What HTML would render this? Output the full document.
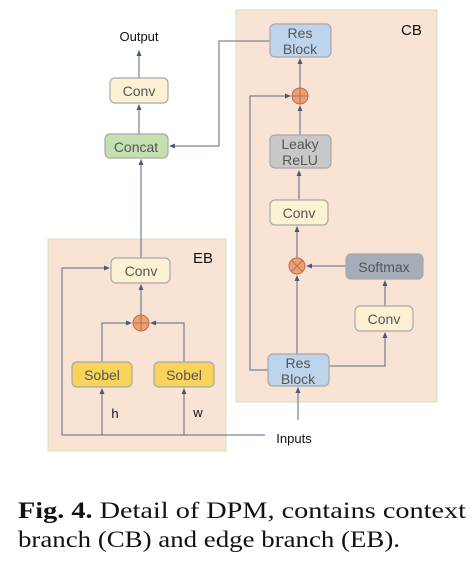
<!DOCTYPE html>
<html><head><meta charset="utf-8"><style>
html,body{margin:0;padding:0;background:#fff;width:475px;height:569px;overflow:hidden}
svg text{font-family:"Liberation Sans",sans-serif}
</style></head><body>
<svg width="475" height="569" viewBox="0 0 475 569" xmlns="http://www.w3.org/2000/svg">
<defs><marker id="a" markerWidth="6" markerHeight="6" refX="5" refY="3" orient="auto" markerUnits="userSpaceOnUse"><path d="M0,0.5 L6,3 L0,5.5 z" fill="#4a5a78"/></marker></defs>
<rect x="236" y="10" width="201" height="392" fill="#f9e3d5" stroke="#cfe3b5" stroke-width="1"/>
<rect x="48" y="239" width="178" height="212" fill="#f9e3d5" stroke="#cfe3b5" stroke-width="1"/>
<text x="401" y="35" font-size="15" fill="#111">CB</text>
<text x="193" y="263" font-size="15" fill="#111">EB</text>
<text x="139" y="41" font-size="13" fill="#111" text-anchor="middle">Output</text>
<text x="294" y="443" font-size="13" fill="#111" text-anchor="middle">Inputs</text>
<text x="115" y="418" font-size="13" fill="#111" text-anchor="middle">h</text>
<text x="198" y="417" font-size="13" fill="#111" text-anchor="middle">w</text>
<g stroke="#5a6a85" stroke-width="1" fill="none">
<path d="M139,78 V51" marker-end="url(#a)"/>
<path d="M139,134 V105" marker-end="url(#a)"/>
<path d="M141,258 V160" marker-end="url(#a)"/>
<path d="M270,41 H219 V146 H170" marker-end="url(#a)"/>
<path d="M300,88 V59" marker-end="url(#a)"/>
<path d="M300,135 V106" marker-end="url(#a)"/>
<path d="M299,200 V171" marker-end="url(#a)"/>
<path d="M297,258 V227" marker-end="url(#a)"/>
<path d="M297,354 V276" marker-end="url(#a)"/>
<path d="M346,266 H307" marker-end="url(#a)"/>
<path d="M385,306 V281" marker-end="url(#a)"/>
<path d="M329,366 H385 V333" marker-end="url(#a)"/>
<path d="M268,370 H250 V96 H290" marker-end="url(#a)"/>
<path d="M298,420 V388" marker-end="url(#a)"/>
<path d="M265,435 H62 V268 H109" marker-end="url(#a)"/>
<path d="M141,315 V285" marker-end="url(#a)"/>
<path d="M102,362 V323 H131" marker-end="url(#a)"/>
<path d="M184,362 V323 H151" marker-end="url(#a)"/>
<path d="M102,435 V389" marker-end="url(#a)"/>
<path d="M184,435 V389" marker-end="url(#a)"/>
</g>
<g stroke="#a8a8a8" stroke-width="1.2">
<rect x="270" y="24" width="61" height="33" rx="5" fill="#bcd4ec"/>
<rect x="110" y="78" width="58" height="25" rx="5" fill="#fdf1d3"/>
<rect x="105" y="134" width="63" height="24" rx="5" fill="#c4e0b0"/>
<rect x="270" y="135" width="61" height="33" rx="5" fill="#c8c8c8"/>
<rect x="270" y="200" width="58" height="25" rx="5" fill="#fdf1d3"/>
<rect x="346" y="254" width="77" height="25" rx="5" fill="#a4aebb"/>
<rect x="355" y="306" width="58" height="25" rx="5" fill="#fdf1d3"/>
<rect x="268" y="354" width="61" height="32" rx="5" fill="#bcd4ec"/>
<rect x="111" y="258" width="59" height="25" rx="5" fill="#fdf1d3"/>
<rect x="72" y="362" width="60" height="25" rx="5" fill="#f9d35a"/>
<rect x="154" y="362" width="60" height="25" rx="5" fill="#f9d35a"/>
</g>
<g stroke="#b07050" stroke-width="1" fill="#f0a070">
<circle cx="300" cy="96" r="8"/><circle cx="297" cy="266" r="8"/><circle cx="141" cy="323" r="8"/>
</g>
<g stroke="#b07050" stroke-width="1">
<path d="M292,96 H308 M300,88 V104"/><path d="M141,315 V331 M133,323 H149"/>
<path d="M291.3,260.3 L302.7,271.7 M302.7,260.3 L291.3,271.7"/>
</g>
<g font-size="14" fill="#555" text-anchor="middle">
<text x="300" y="38">Res</text><text x="300" y="54">Block</text>
<text x="139" y="96">Conv</text>
<text x="136" y="152">Concat</text>
<text x="300" y="149">Leaky</text><text x="300" y="165">ReLU</text>
<text x="299" y="218">Conv</text>
<text x="384" y="272">Softmax</text>
<text x="384" y="324">Conv</text>
<text x="298" y="368">Res</text><text x="298" y="384">Block</text>
<text x="141" y="276">Conv</text>
<text x="102" y="380">Sobel</text>
<text x="184" y="380">Sobel</text>
</g>
<g font-size="23" fill="#111">
<text x="18" y="518" textLength="448" lengthAdjust="spacingAndGlyphs" style="font-family:'Liberation Serif',serif"><tspan font-weight="bold">Fig. 4.</tspan> Detail of DPM, contains context</text>
<text x="18" y="547" textLength="382" lengthAdjust="spacingAndGlyphs" style="font-family:'Liberation Serif',serif">branch (CB) and edge branch (EB).</text>
</g>
</svg>
</body></html>
